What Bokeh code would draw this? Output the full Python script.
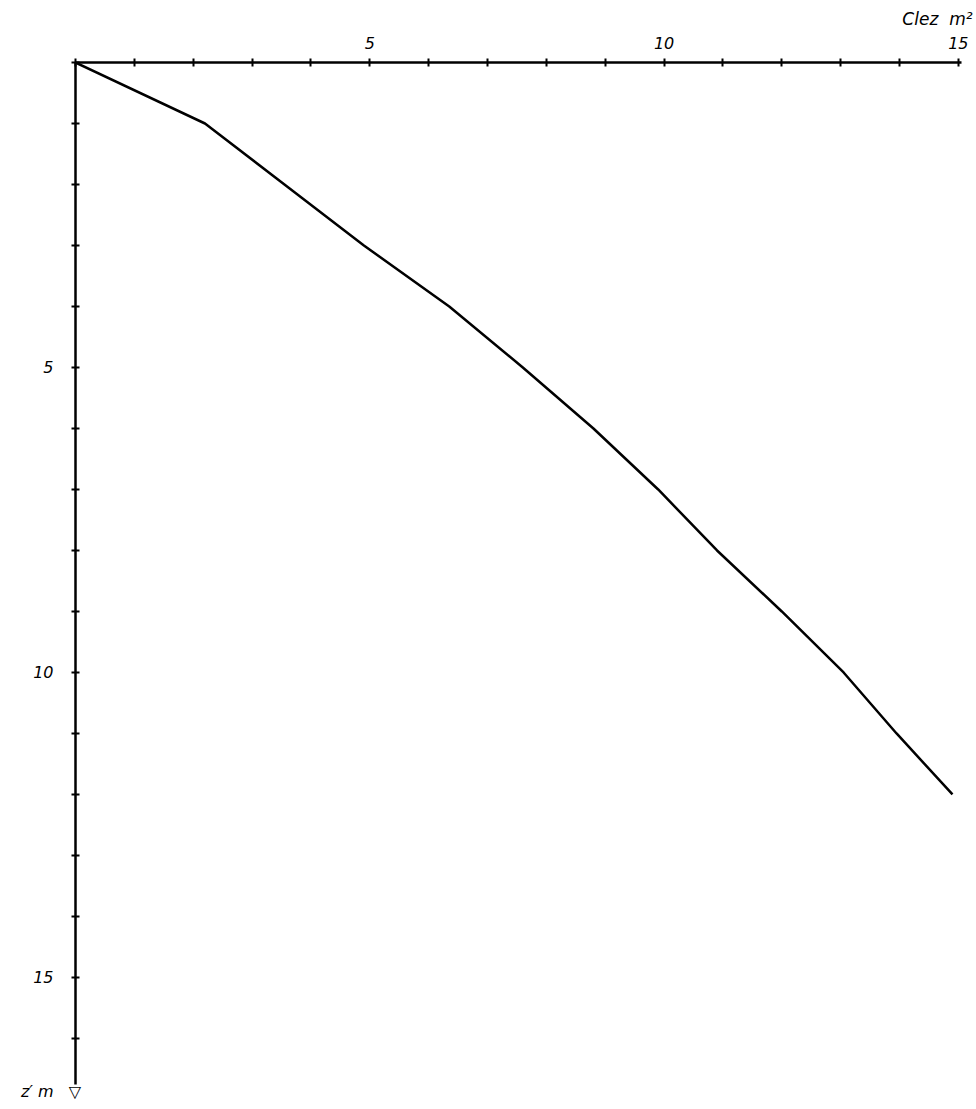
from bokeh.plotting import figure
from bokeh.models import Range1d, LinearAxis, FixedTicker, ColumnDataSource, Title
from bokeh.embed import file_html
from bokeh.resources import INLINE

# Data: depth z' (m) vs. Clez (m^2)
depth_z = [0, 1, 2, 3, 4, 5, 6, 7, 8, 9, 10, 11, 12]
clez = [0.0, 2.2, 3.55, 4.9, 6.35, 7.6, 8.8, 9.9, 10.9, 12.0, 13.05, 13.95, 14.9]

x_ticks = list(range(0, 16))
x_tick_labels = {5: "5", 10: "10", 15: "15"}
y_ticks = list(range(0, 17))
y_tick_labels = {5: "5", 10: "10", 15: "15"}

FONT = "DejaVu Sans"

p = figure(width=976, height=1104, output_backend="svg", toolbar_location=None,
           x_range=Range1d(0, 15.24), y_range=Range1d(17.05, 0),
           x_axis_location=None, y_axis_location=None,
           min_border_left=75, min_border_top=62, min_border_right=4, min_border_bottom=2)
p.outline_line_color = None
p.grid.visible = False
p.background_fill_color = "white"
p.border_fill_color = "white"

p.title = Title(text="Clez\u00a0\u00a0m²", align="right", text_font=FONT, text_font_style="italic",
                text_font_size="17px", text_color="black", offset=0)

# Top axis
xa = LinearAxis(ticker=FixedTicker(ticks=x_ticks), bounds=(0, 15.05))
xa.major_label_overrides = {t: x_tick_labels.get(t, "") for t in x_ticks}
xa.axis_line_width = 2.5
xa.axis_line_color = "black"
xa.major_tick_line_width = 2
xa.major_tick_in = 4
xa.major_tick_out = 4
xa.minor_tick_line_color = None
xa.major_label_text_font = FONT
xa.major_label_text_font_style = "italic"
xa.major_label_text_font_size = "16px"
xa.major_label_text_color = "black"
xa.major_label_standoff = 10
p.add_layout(xa, "above")

# Left axis
ya = LinearAxis(ticker=FixedTicker(ticks=y_ticks), bounds=(0, 16.75))
ya.major_label_overrides = {t: y_tick_labels.get(t, "") for t in y_ticks}
ya.axis_line_width = 2.5
ya.axis_line_color = "black"
ya.major_tick_line_width = 2
ya.major_tick_in = 4
ya.major_tick_out = 4
ya.minor_tick_line_color = None
ya.major_label_text_font = FONT
ya.major_label_text_font_style = "italic"
ya.major_label_text_font_size = "16px"
ya.major_label_text_color = "black"
ya.major_label_standoff = 18
ya.major_label_orientation = "horizontal"
ya.axis_label = "z′ m\u00a0\u00a0\u00a0▽\n "
ya.axis_label_text_font = FONT
ya.axis_label_text_font_style = "italic"
ya.axis_label_text_font_size = "16px"
ya.axis_label_text_color = "black"
ya.axis_label_orientation = "horizontal"
ya.axis_label_align = "end"
ya.axis_label_standoff = -51
p.add_layout(ya, "left")

# Curve
src = ColumnDataSource(data=dict(x=clez, y=depth_z))
p.line("x", "y", source=src, line_color="black", line_width=2.5)

open("out.html", "w").write(file_html(p, INLINE))
